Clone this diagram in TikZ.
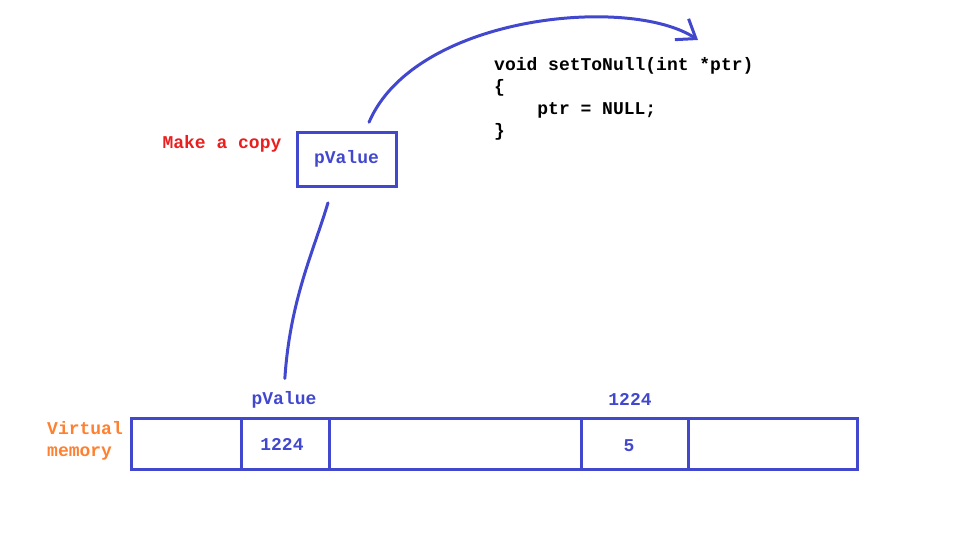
\documentclass[tikz,border=0pt]{standalone}
\usepackage{fontspec}
\newfontfamily\cour{Liberation Mono}
\usetikzlibrary{arrows.meta,positioning}
\definecolor{memblue}{RGB}{66,72,206}
\definecolor{copyred}{RGB}{234,30,30}
\definecolor{memorange}{RGB}{255,128,48}
\tikzset{
  txt/.style={font=\cour\bfseries\fontsize{18}{22}\selectfont, inner sep=0pt},
  cell/.style={draw=memblue, line width=3pt, minimum height=51pt, inner sep=0pt, outer sep=0pt, anchor=west},
  link/.style={draw=memblue, line width=3pt, line cap=round}
}
\begin{document}
\begin{tikzpicture}[x=1pt, y=-1pt]
  \useasboundingbox (0,0) rectangle (959,551);
  % memory row
  \node[cell, minimum width=110pt] (c1) at (131,443.5) {};
  \node[cell, minimum width=88pt] (c2) at (241,443.5) {};
  \node[cell, minimum width=252pt] (c3) at (329,443.5) {};
  \node[cell, minimum width=107pt] (c4) at (581,443.5) {};
  \node[cell, minimum width=169pt] (c5) at (688,443.5) {};
  \node[txt, memblue] (v2) at (282,444) {1224};
  \node[txt, memblue] (v4) at (629,446) {5};
  \node[txt, memblue] (plabel) at (284,400) {pValue};
  \node[txt, memblue] (alabel) at (630,399) {1224};
  \node[txt, memorange, align=left, anchor=west] (vmem) at (47,441) {Virtual\\memory};
  % the copy
  \node[txt, memblue, draw=memblue, line width=3pt, minimum width=99pt, minimum height=54pt] (copy) at (346.5,159) {pValue};
  \node[txt, copyred] (mk) at (222,144) {Make a copy};
  \node[txt, align=left, anchor=west] (code) at (494,99) {void setToNull(int *ptr)\\\{\\\phantom{void}ptr = NULL;\\\}};
  \coordinate (tip) at (698,40);
  \draw[link, shorten <=16pt, shorten >=13pt] ([xshift=-14pt]copy.south) .. controls (314,250) and (290,300) .. (plabel.north);
  \draw[link, -{Straight Barb[length=17pt,width=25pt]}, shorten <=9pt] ([xshift=19pt]copy.north) .. controls (415,15) and (630,-5) .. (tip);
\end{tikzpicture}
\end{document}
